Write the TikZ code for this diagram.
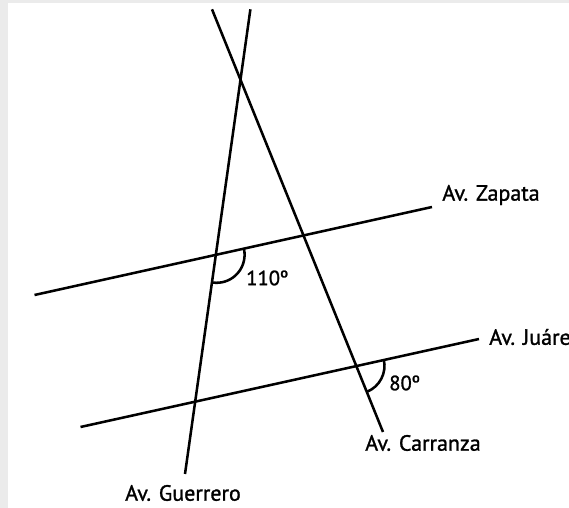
\documentclass[tikz,border=0pt]{standalone}
\usepackage{fontspec}
\setmainfont{PT Sans}
\newfontfamily\lblfont{PT Sans}[FakeBold=1.2]
\definecolor{bggray}{HTML}{EBEBEB}
\begin{document}
\begin{tikzpicture}[x=0.75pt,y=0.75pt,
  street/.style={line width=1.9pt,line cap=butt},
  anglemark/.style={line width=1.9pt},
  lbl/.style={font=\lblfont\fontsize{16.5}{18}\selectfont,inner sep=0pt},
  numlbl/.style={font=\lblfont\fontsize{15.5}{17}\selectfont,inner sep=0pt,anchor=west}]
\useasboundingbox (0,0) rectangle (569,508);
\fill[bggray] (0,0) rectangle (569,508);
\fill[white] (8,0) rectangle (569,505);
% street ends
\coordinate (gT) at (250.4,498.7);
\coordinate (gB) at (185,34);
\coordinate (cT) at (212,498.7);
\coordinate (cB) at (383,76);
\coordinate (zL) at (34.5,213);
\coordinate (zR) at (432,301);
\coordinate (jL) at (80.5,81);
\coordinate (jR) at (479,169);
\draw[street] (gT) -- (gB);
\draw[street] (cT) -- (cB);
\draw[street] (zL) -- (zR);
\draw[street] (jL) -- (jR);
% angle marks
\coordinate (gz) at (216.6,253.2);
\coordinate (cj) at (356.5,142.2);
\draw[anglemark] (gz) ++(12.5:28) arc[start angle=12.5, end angle=-98, radius=28];
\draw[anglemark] (cj) ++(12.4:28) arc[start angle=12.4, end angle=-68, radius=28];
% labels
\node[lbl] (zap) at (491,313) {Av. Zapata};
\node[lbl,anchor=west] (jua) at (489,171) {Av. Juáre};
\node[lbl] (car) at (423,65) {Av. Carranza};
\node[lbl] (gue) at (183,15) {Av. Guerrero};
\node[numlbl] (a110) at (246,230) {110º};
\node[numlbl] (a80) at (389,125) {80º};
\end{tikzpicture}
\end{document}
